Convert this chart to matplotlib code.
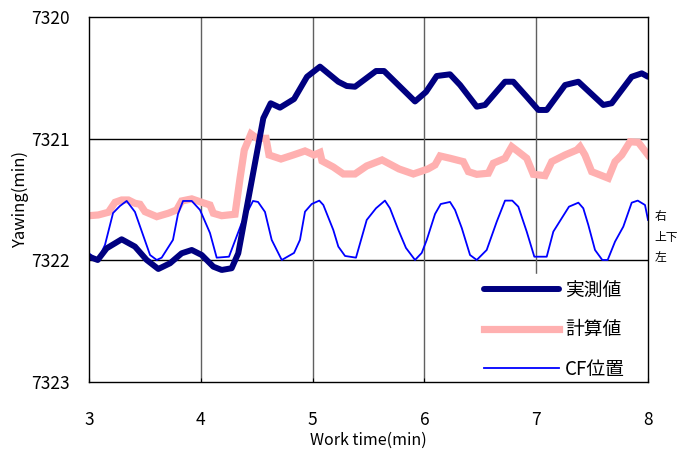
import matplotlib
matplotlib.use("Agg")
import matplotlib.pyplot as plt
from matplotlib.transforms import blended_transform_factory

plt.rcParams['font.family'] = ['Noto Sans CJK JP', 'DejaVu Sans']

# measured yaw (実測値)
meas_t = [3.000, 3.078, 3.158, 3.292, 3.411, 3.516, 3.620, 3.725, 3.829, 3.919,
          4.008, 4.112, 4.187, 4.276, 4.335, 4.559, 4.625, 4.708, 4.834, 4.950,
          5.066, 5.230, 5.305, 5.379, 5.567, 5.639, 5.842, 5.916, 6.014, 6.110,
          6.229, 6.319, 6.468, 6.542, 6.721, 6.795, 6.915, 7.019, 7.094, 7.258,
          7.377, 7.600, 7.675, 7.854, 7.944, 8.000]
meas_y = [7321.970, 7321.997, 7321.901, 7321.827, 7321.887, 7321.997, 7322.071, 7322.024, 7321.942, 7321.915,
          7321.956, 7322.052, 7322.079, 7322.065, 7321.942, 7320.832, 7320.709, 7320.745, 7320.674, 7320.491,
          7320.408, 7320.532, 7320.567, 7320.573, 7320.444, 7320.444, 7320.627, 7320.694, 7320.616, 7320.485,
          7320.471, 7320.559, 7320.737, 7320.723, 7320.532, 7320.532, 7320.655, 7320.764, 7320.764, 7320.559,
          7320.532, 7320.723, 7320.709, 7320.491, 7320.463, 7320.491]

# calculated yaw (計算値)
calc_t = [3.000, 3.083, 3.173, 3.233, 3.292, 3.352, 3.411, 3.456, 3.501, 3.606,
          3.709, 3.784, 3.829, 3.919, 4.008, 4.082, 4.112, 4.187, 4.306, 4.351,
          4.389, 4.449, 4.503, 4.583, 4.610, 4.717, 4.827, 4.932, 5.013, 5.066,
          5.084, 5.185, 5.275, 5.379, 5.484, 5.621, 5.773, 5.901, 6.032, 6.095,
          6.140, 6.229, 6.348, 6.393, 6.468, 6.572, 6.616, 6.721, 6.781, 6.840,
          6.915, 6.974, 7.079, 7.139, 7.258, 7.363, 7.392, 7.436, 7.496, 7.645,
          7.705, 7.765, 7.839, 7.913, 8.000]
calc_y = [7321.633, 7321.627, 7321.605, 7321.523, 7321.504, 7321.504, 7321.531, 7321.539, 7321.600, 7321.641,
          7321.613, 7321.586, 7321.512, 7321.495, 7321.523, 7321.545, 7321.613, 7321.633, 7321.621, 7321.325,
          7321.093, 7320.961, 7320.997, 7320.997, 7321.134, 7321.167, 7321.134, 7321.101, 7321.134, 7321.113,
          7321.183, 7321.233, 7321.290, 7321.290, 7321.224, 7321.175, 7321.249, 7321.290, 7321.249, 7321.216,
          7321.142, 7321.161, 7321.189, 7321.271, 7321.293, 7321.284, 7321.202, 7321.161, 7321.066, 7321.107,
          7321.161, 7321.293, 7321.304, 7321.189, 7321.134, 7321.093, 7321.066, 7321.134, 7321.271, 7321.325,
          7321.189, 7321.134, 7321.025, 7321.030, 7321.134]

# CF position
cf_t = [3.000, 3.078, 3.143, 3.215, 3.277, 3.337, 3.411, 3.483, 3.546, 3.606,
        3.650, 3.751, 3.796, 3.841, 3.919, 3.993, 4.082, 4.142, 4.252, 4.366,
        4.467, 4.512, 4.574, 4.634, 4.724, 4.834, 4.887, 4.932, 4.992, 5.060,
        5.096, 5.185, 5.230, 5.290, 5.388, 5.484, 5.567, 5.647, 5.692, 5.767,
        5.835, 5.916, 5.976, 6.021, 6.095, 6.146, 6.229, 6.274, 6.334, 6.408,
        6.468, 6.557, 6.647, 6.721, 6.786, 6.840, 6.915, 6.983, 7.094, 7.153,
        7.228, 7.293, 7.377, 7.421, 7.466, 7.526, 7.591, 7.639, 7.705, 7.779,
        7.854, 7.908, 7.973, 8.000]
cf_y = [7321.942, 7322.000, 7321.873, 7321.611, 7321.553, 7321.512, 7321.602, 7321.791, 7321.956, 7321.997,
        7321.978, 7321.832, 7321.619, 7321.512, 7321.512, 7321.586, 7321.775, 7321.978, 7321.970, 7321.693,
        7321.512, 7321.520, 7321.602, 7321.832, 7321.997, 7321.939, 7321.832, 7321.600, 7321.537, 7321.509,
        7321.545, 7321.750, 7321.887, 7321.964, 7321.978, 7321.668, 7321.572, 7321.509, 7321.572, 7321.750,
        7321.898, 7321.997, 7321.939, 7321.832, 7321.619, 7321.537, 7321.520, 7321.586, 7321.734, 7321.956,
        7321.997, 7321.915, 7321.682, 7321.509, 7321.509, 7321.559, 7321.764, 7321.970, 7321.970, 7321.764,
        7321.654, 7321.559, 7321.526, 7321.572, 7321.709, 7321.915, 7321.997, 7321.997, 7321.846, 7321.723,
        7321.526, 7321.509, 7321.545, 7321.668]

x_ticks = [3, 4, 5, 6, 7, 8]
y_ticks = [7320, 7321, 7322, 7323]
side_labels = ['右', '上下', '左']
side_label_y = [7321.64, 7321.81, 7321.98]


fig = plt.figure(figsize=(6.91, 4.5), dpi=100)
ax = fig.add_axes([0.1288, 0.1511, 0.8090, 0.8111])

for y in [7321, 7322]:
    ax.axhline(y, color='black', linewidth=1.0, zorder=1)
for x in [4, 5, 6, 7]:
    ax.axvline(x, color='#606060', linewidth=1.0, zorder=1)

ax.plot(calc_t, calc_y, color='#FFB0B0', linewidth=5.2, solid_joinstyle='miter', label='計算値', zorder=1.5)
ax.plot(cf_t, cf_y, color='#0000FF', linewidth=1.3, label='CF位置', zorder=1.8)
ax.plot(meas_t, meas_y, color='#000080', linewidth=4.3, solid_capstyle='round', label='実測値', zorder=2.1)

ax.set_xlim(3, 8)
ax.set_ylim(7323, 7320)
ax.set_xticks(x_ticks)
ax.set_yticks(y_ticks)
ax.tick_params(axis='x', direction='in', length=3, pad=21, labelsize=12.5)
ax.tick_params(axis='y', direction='out', length=0, pad=14, labelsize=12.5)
for s in ax.spines.values():
    s.set_color('black')
    s.set_linewidth(1.0)

ax.set_xlabel('Work time(min)', fontsize=11.5)
ax.xaxis.set_label_coords(0.5, -0.136)
ax.set_ylabel('Yawing(min)', fontsize=12)
ax.yaxis.set_label_coords(-0.108, 0.5)

trans = blended_transform_factory(ax.transAxes, ax.transData)
for lab, yy in zip(side_labels, side_label_y):
    ax.text(1.012, yy, lab, transform=trans, ha='left', va='center', fontsize=8.5)

handles, labels = ax.get_legend_handles_labels()
order = [2, 0, 1]
leg = ax.legend([handles[i] for i in order], [labels[i] for i in order],
                loc='center left', bbox_to_anchor=(0.697, 0.143), fontsize=13.5,
                handlelength=4.0, handletextpad=0.3, labelspacing=1.0,
                borderpad=0.3, borderaxespad=0, frameon=True, fancybox=False,
                facecolor='white', edgecolor='white', framealpha=1)
leg.set_zorder(2.3)

plt.savefig('out.png', dpi=100)
